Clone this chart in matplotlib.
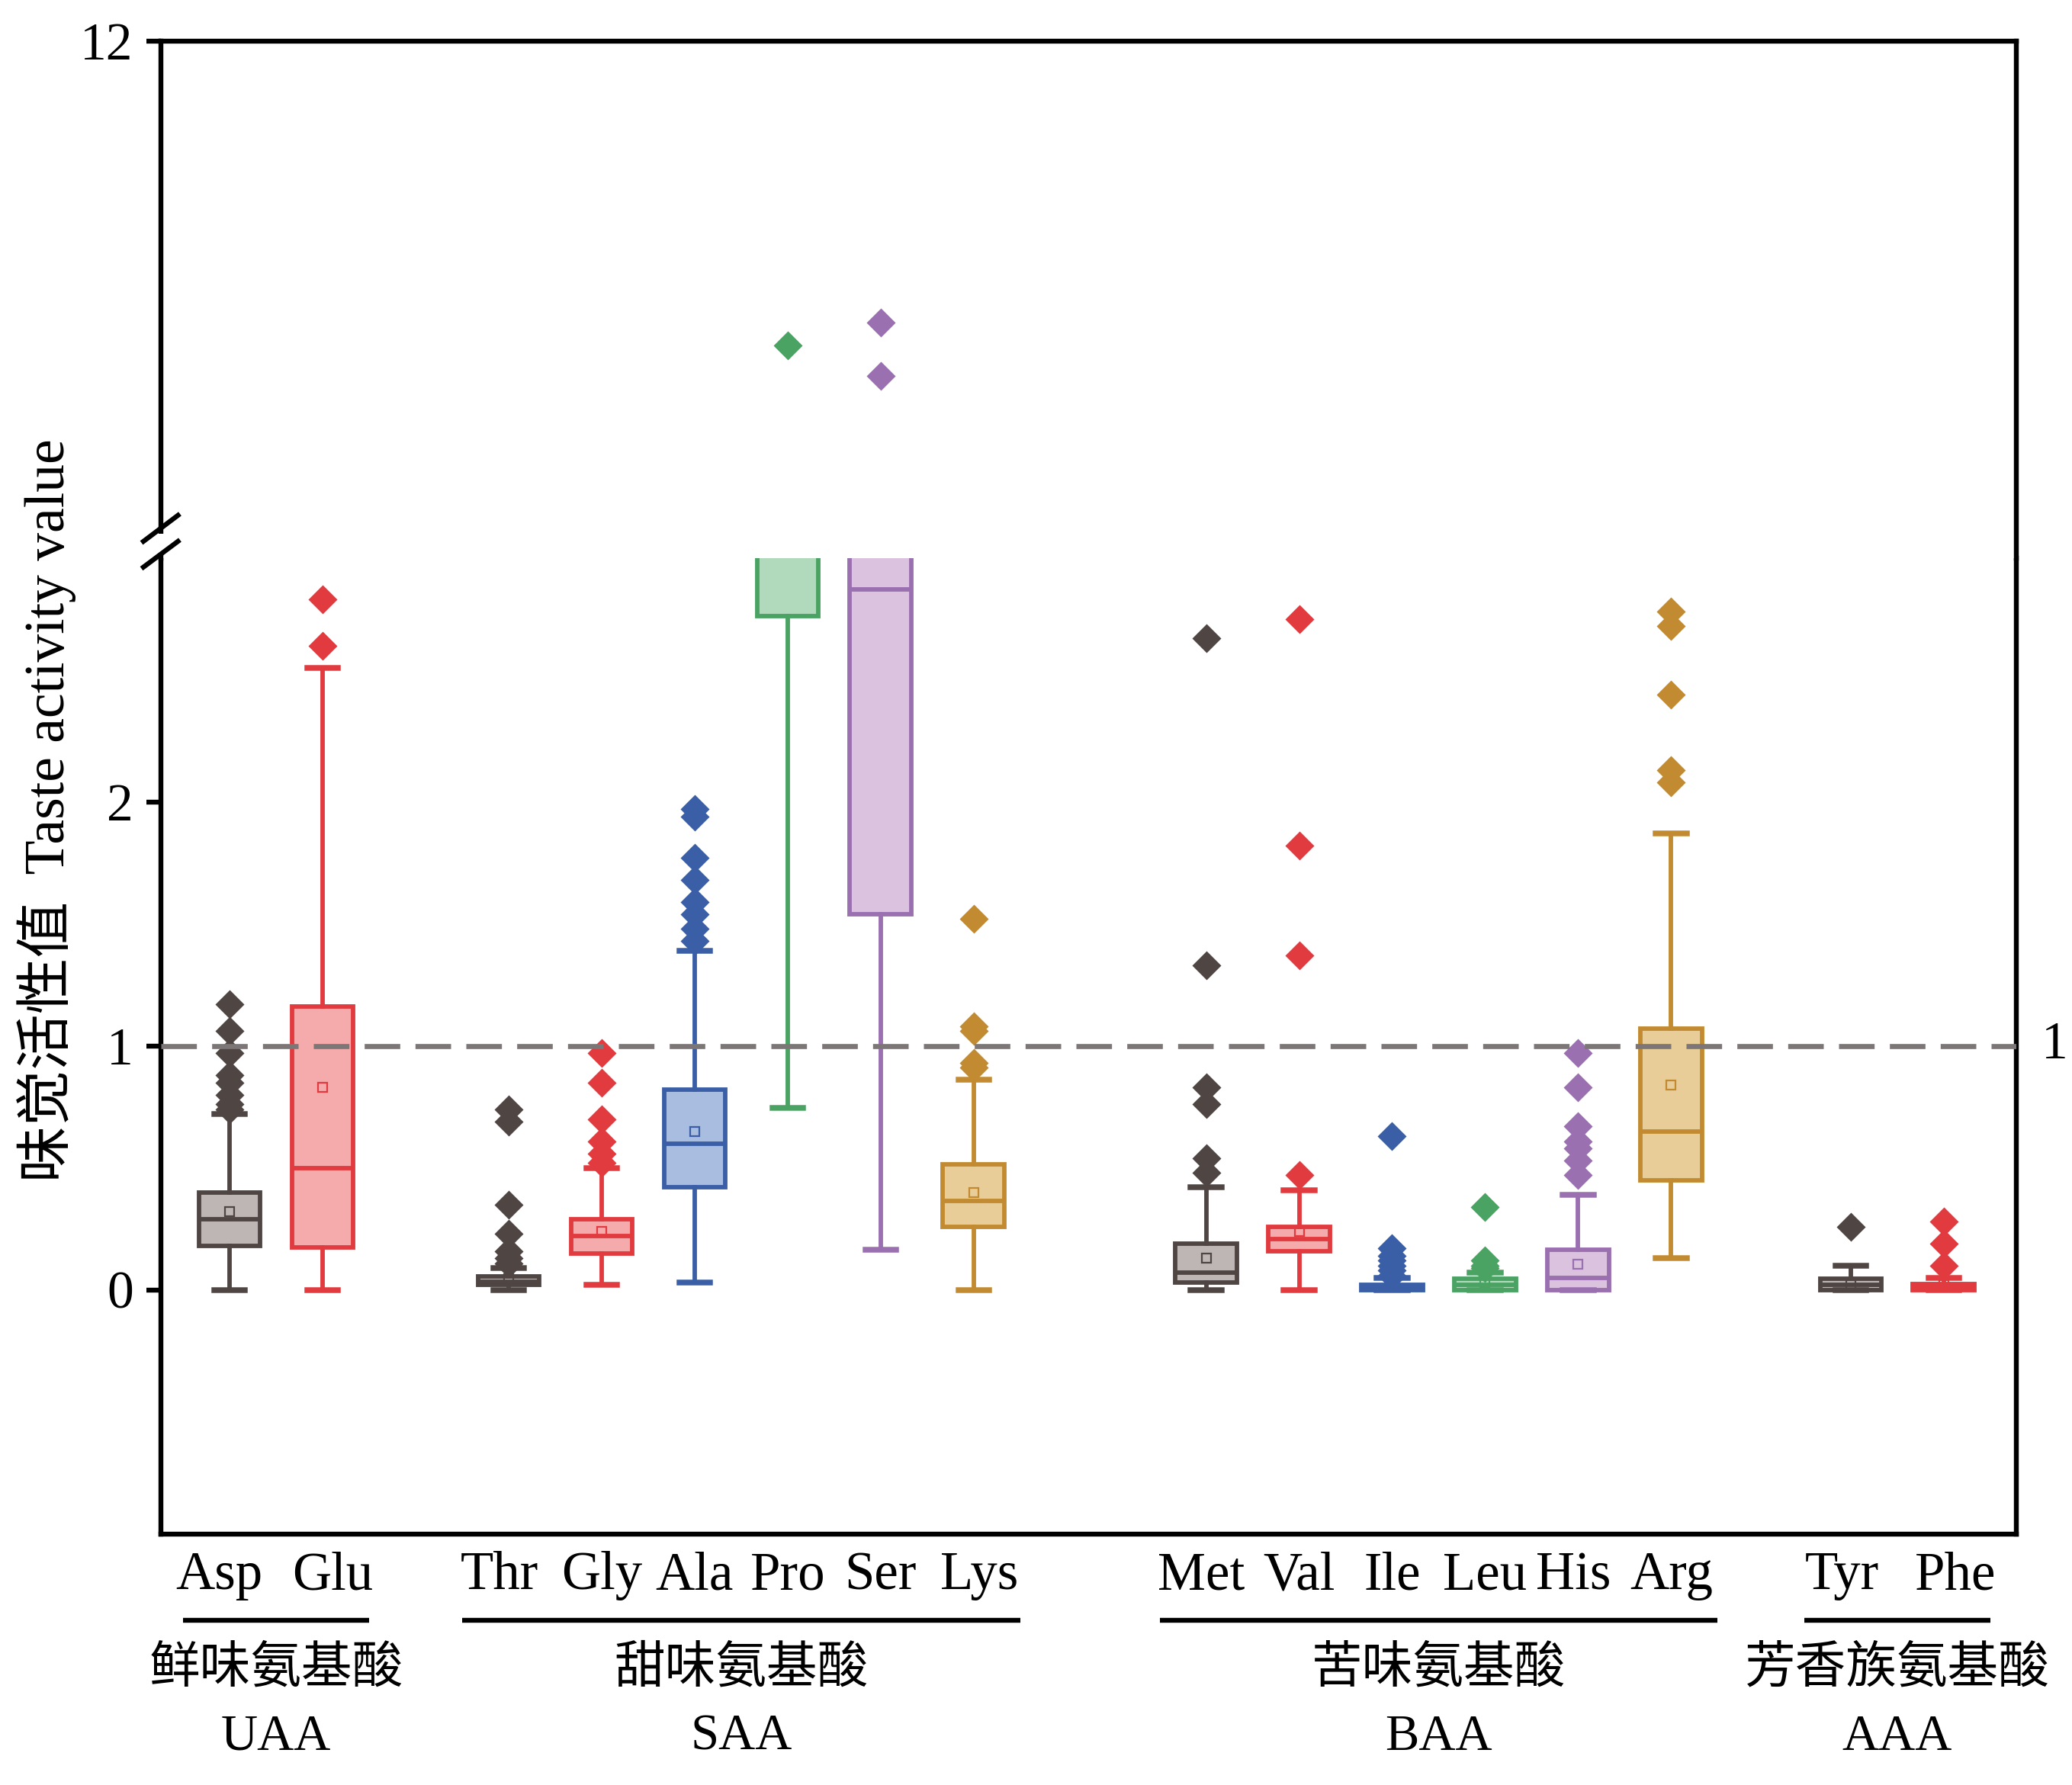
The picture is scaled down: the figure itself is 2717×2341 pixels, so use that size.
import matplotlib
matplotlib.use('Agg')
import matplotlib.pyplot as plt
import matplotlib.transforms as mtransforms
from matplotlib.lines import Line2D
from matplotlib.patches import Rectangle

plt.rcParams['font.family'] = ['Liberation Serif', 'Noto Sans CJK SC']

# box statistics
amino = ['Asp', 'Glu', 'Thr', 'Gly', 'Ala', 'Pro', 'Ser', 'Lys',
         'Met', 'Val', 'Ile', 'Leu', 'His', 'Arg', 'Tyr', 'Phe']
whislo = [0.0, 0.0, 0.0, 0.02, 0.03, 0.745, 0.165, 0.0,
          0.0, 0.0, 0.0, 0.0, 0.0, 0.13, 0.0, 0.0]
q1 = [0.18, 0.175, 0.02, 0.15, 0.42, 2.76, 1.54, 0.26,
      0.03, 0.16, 0.0, 0.0, 0.0, 0.45, 0.0, 0.0]
med = [0.29, 0.50, 0.035, 0.22, 0.60, 3.3, 2.87, 0.365,
       0.07, 0.21, 0.01, 0.02, 0.05, 0.65, 0.02, 0.01]
q3 = [0.40, 1.16, 0.055, 0.29, 0.82, 3.75, 3.6, 0.515,
      0.19, 0.26, 0.02, 0.045, 0.165, 1.07, 0.045, 0.025]
whishi = [0.72, 2.55, 0.09, 0.50, 1.39, 3.95, 3.9, 0.86,
          0.42, 0.41, 0.05, 0.07, 0.39, 1.87, 0.10, 0.05]
means = [0.32, 0.83, 0.045, 0.24, 0.65, 3.4, 3.1, 0.40,
         0.13, 0.24, 0.02, 0.03, 0.105, 0.84, 0.02, 0.02]
fliers = [
    [1.17, 1.06, 0.97, 0.88, 0.85, 0.80, 0.76, 0.74],
    [2.83, 2.64],
    [0.74, 0.69, 0.35, 0.23, 0.16, 0.13, 0.11],
    [0.97, 0.85, 0.70, 0.61, 0.56, 0.52],
    [1.97, 1.94, 1.77, 1.68, 1.59, 1.54, 1.48, 1.43],
    [7.29],
    [7.64, 6.82],
    [1.52, 1.08, 1.06, 0.93, 0.91],
    [2.67, 1.33, 0.83, 0.76, 0.54, 0.48],
    [2.75, 1.82, 1.37, 0.47],
    [0.63, 0.17, 0.14, 0.12, 0.10, 0.08, 0.06],
    [0.34, 0.12, 0.10, 0.09],
    [0.97, 0.83, 0.67, 0.61, 0.58, 0.53, 0.47],
    [2.78, 2.72, 2.44, 2.13, 2.08],
    [0.26],
    [0.28, 0.19, 0.10],
]
group_cn = ['鲜味氨基酸', '甜味氨基酸', '苦味氨基酸', '芳香族氨基酸']
group_en = ['UAA', 'SAA', 'BAA', 'AAA']
group_members = [[0, 1], [2, 3, 4, 5, 6, 7], [8, 9, 10, 11, 12, 13], [14, 15]]
threshold = 1

# layout / styles
positions = [0, 1, 3, 4, 5, 6, 7, 8, 10.5, 11.5, 12.5, 13.5, 14.5, 15.5, 17.43, 18.43]
label_pos = [-0.11, 1.11, 2.9, 4, 5, 6, 7, 8.06,
             10.45, 11.5, 12.5, 13.5, 14.45, 15.5, 17.34, 18.56]
dark = ('#4f4644', '#bdb6b5')
red = ('#e23b3f', '#f5aaab')
blue = ('#3b5fa6', '#a9bde0')
green = ('#4aa263', '#b1d9bb')
purple = ('#9a70b0', '#dbc2df')
gold = ('#c28b32', '#e9cd98')
styles = [dark, red, dark, red, blue, green, purple, gold,
          dark, red, blue, green, purple, gold, dark, red]

W, H = 1560.0, 1344.0  # reference frame in display px
fig = plt.figure(figsize=(2717 / 200, 2341 / 200), dpi=200)
left = 121 / W
width = (1518 - 121) / W
ax_lo = fig.add_axes([left, 1 - 1155 / H, width, (1155 - 420) / H])
ax_hi = fig.add_axes([left, 1 - 420 / H, width, (420 - 31) / H])

stats = []
for i in range(len(amino)):
    stats.append(dict(label=amino[i], whislo=whislo[i], q1=q1[i], med=med[i],
                      q3=q3[i], whishi=whishi[i], mean=means[i], fliers=fliers[i]))

lw = 2.1
for ax in (ax_lo, ax_hi):
    for i, st in enumerate(stats):
        ec, fc = styles[i]
        ax.bxp([st], positions=[positions[i]], widths=0.66, capwidths=0.33,
               patch_artist=True, showmeans=True, manage_ticks=False,
               boxprops=dict(facecolor=fc, edgecolor=ec, linewidth=lw),
               medianprops=dict(color=ec, linewidth=lw),
               whiskerprops=dict(color=ec, linewidth=lw),
               capprops=dict(color=ec, linewidth=lw + 0.6),
               flierprops=dict(marker='D', markerfacecolor=ec, markeredgecolor='none',
                               markersize=9.5),
               meanprops=dict(marker='s', markerfacecolor='none', markeredgecolor=ec,
                              markersize=4, markeredgewidth=0.8))
    ax.set_xlim(-0.74, 19.21)
    for s in ax.spines.values():
        s.set_linewidth(2.3)
    ax.tick_params(axis='y', direction='out', length=7, width=2.3, labelsize=25, pad=6)

ax_lo.set_ylim(-1, 3.0)
ax_hi.set_ylim(4, 12)
ax_lo.set_yticks([0, 1, 2])
ax_hi.set_yticks([12])
ax_lo.spines['top'].set_visible(False)
ax_hi.spines['bottom'].set_visible(False)
ax_hi.set_xticks([])

ax_lo.set_xticks(label_pos)
ax_lo.set_xticklabels(amino)
ax_lo.tick_params(axis='x', length=0, labelsize=25.5, pad=8)

ax_lo.axhline(threshold, color='#7d7676', lw=2.4, dashes=(7, 3), zorder=6)
trans_r = mtransforms.blended_transform_factory(ax_lo.transAxes, ax_lo.transData)
ax_lo.text(1.0135, threshold, str(threshold), transform=trans_r, ha='left',
           va='center', fontsize=25)

# group underlines and labels
trans_g = mtransforms.blended_transform_factory(ax_lo.transData, ax_lo.transAxes)
for cn, en, idx in zip(group_cn, group_en, group_members):
    x0 = positions[idx[0]] - 0.5
    x1 = positions[idx[-1]] + 0.5
    xm = (x0 + x1) / 2
    ax_lo.plot([x0, x1], [-0.0884, -0.0884], transform=trans_g, color='black',
               lw=2.3, clip_on=False, solid_capstyle='butt')
    ax_lo.text(xm, -0.139, cn, transform=trans_g, ha='center', va='center', fontsize=24)
    ax_lo.text(xm, -0.208, en, transform=trans_g, ha='center', va='center', fontsize=24)

fig.text(35 / W, 1 - 610 / H, '味觉活性值  Taste activity value', rotation=90,
         ha='center', va='center', fontsize=26.5)

# axis break on the left spine
fig.add_artist(Rectangle((113 / W, 1 - 418 / H), 16 / W, 16 / H,
                         transform=fig.transFigure, facecolor='white',
                         edgecolor='none', zorder=10))
for y0, y1 in [(407.6, 388), (427, 407.6)]:
    fig.add_artist(Line2D([108 / W, 134 / W], [1 - y0 / H, 1 - y1 / H],
                          transform=fig.transFigure, color='black', lw=2.3, zorder=11))

fig.savefig('out.png', dpi=200)
